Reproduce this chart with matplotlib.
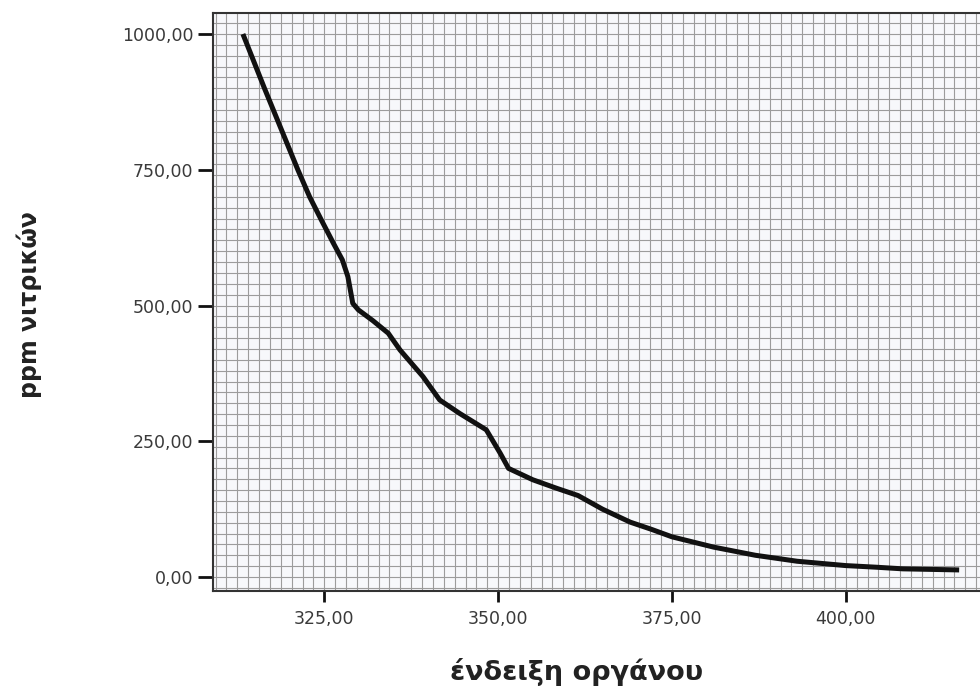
import matplotlib
matplotlib.use("Agg")
import matplotlib.pyplot as plt
import numpy as np

# data
reading = [313.3, 316.4, 319.6, 321.2, 322.9, 324.6, 326.3, 327.6, 328.4, 329.1, 329.9,
           332.0, 334.2, 335.9, 339.2, 341.6, 344.5, 348.3, 350.3, 351.5, 355.0,
           358.5, 361.5, 365.0, 369.0, 372.0, 375.0, 381.0, 387.0, 393.0, 400.0,
           404.4, 408.2, 416.3]
ppm = [1000, 900, 800, 750, 700, 657, 615, 584, 553, 504, 492,
       472, 449, 418, 369, 326, 301, 271, 228, 200, 179,
       163, 150, 125, 101, 88, 74, 55, 40, 29, 21,
       18, 15, 13]

xticks = [325, 350, 375, 400]
yticks = [0, 250, 500, 750, 1000]
xlabel = "ένδειξη οργάνου"
ylabel = "ppm νιτρικών"

fig = plt.figure(figsize=(9.8, 6.92), dpi=100)
ax = fig.add_axes([213/980, 101/692, 1 - 213/980, 578/692])
ax.set_facecolor("#f7f8fb")

xmin, xmax = 309.0, 419.3
ymin, ymax = -25.8, 1038.7
ax.set_xlim(xmin, xmax)
ax.set_ylim(ymin, ymax)

# fine grid pattern
for gx in np.arange(325 - 16 * 25 / 16, xmax, 25 / 16):
    ax.axvline(gx, color="#9c9c9c", lw=0.8, zorder=1)
for gy in np.arange(-20, ymax, 20):
    ax.axhline(gy, color="#9c9c9c", lw=0.8, zorder=1)

ax.plot(reading, ppm, color="#111111", lw=3.6, solid_capstyle="butt",
        solid_joinstyle="round", zorder=3)

ax.set_xticks(xticks)
ax.set_xticklabels([f"{v:.2f}".replace(".", ",") for v in xticks])
ax.set_yticks(yticks)
ax.set_yticklabels([f"{v:.2f}".replace(".", ",") for v in yticks])
ax.tick_params(axis="x", length=8, width=2, color="#111111", labelsize=12.5,
               labelcolor="#3a3a3a", pad=6)
ax.tick_params(axis="y", length=11, width=2, color="#111111", labelsize=12.5,
               labelcolor="#3a3a3a", pad=3)

for s in ["left", "bottom", "top"]:
    ax.spines[s].set_color("#333333")
    ax.spines[s].set_linewidth(1.5)
ax.spines["right"].set_visible(False)

fig.text(29/980, 1 - 305/692, ylabel, rotation=90, ha="center", va="center",
         fontsize=17, fontweight="bold", color="#222222")
fig.text(577/980, 1 - 672/692, xlabel, ha="center", va="center",
         fontsize=19.5, fontweight="bold", color="#222222")

fig.savefig("out.png", dpi=100)
